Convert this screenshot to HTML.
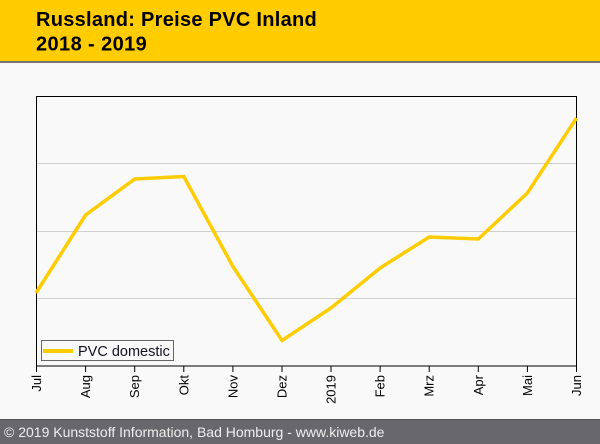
<!DOCTYPE html>
<html><head><meta charset="utf-8"><style>
html,body{margin:0;padding:0;}
body{width:600px;height:444px;overflow:hidden;background:#f9f9f9;font-family:"Liberation Sans",Arial,sans-serif;}
</style></head><body>
<svg width="600" height="444" viewBox="0 0 600 444" xmlns="http://www.w3.org/2000/svg" style="display:block">
<rect x="0" y="0" width="600" height="444" fill="#f9f9f9"/>
<rect x="0" y="0" width="600" height="61" fill="#ffcc00"/>
<rect x="0" y="61" width="600" height="2" fill="#777777"/>
<text x="36" y="26" font-family="Liberation Sans, Arial, sans-serif" font-weight="bold" font-size="20" letter-spacing="0.28" fill="#000">Russland: Preise PVC Inland</text>
<text x="36" y="50.5" font-family="Liberation Sans, Arial, sans-serif" font-weight="bold" font-size="20" letter-spacing="0.4" fill="#000">2018 - 2019</text>
<g stroke="#d0d0d0" stroke-width="1">
<line x1="37" y1="163.5" x2="576" y2="163.5"/>
<line x1="37" y1="231.5" x2="576" y2="231.5"/>
<line x1="37" y1="298.5" x2="576" y2="298.5"/>
</g>
<rect x="36.5" y="96.5" width="540" height="269.5" fill="none" stroke="#000" stroke-width="1"/>
<g stroke="#000" stroke-width="1">
<line x1="36.5" y1="366" x2="36.5" y2="372"/>
<line x1="85.6" y1="366" x2="85.6" y2="372"/>
<line x1="134.7" y1="366" x2="134.7" y2="372"/>
<line x1="183.8" y1="366" x2="183.8" y2="372"/>
<line x1="232.9" y1="366" x2="232.9" y2="372"/>
<line x1="282" y1="366" x2="282" y2="372"/>
<line x1="331" y1="366" x2="331" y2="372"/>
<line x1="380.1" y1="366" x2="380.1" y2="372"/>
<line x1="429.2" y1="366" x2="429.2" y2="372"/>
<line x1="478.3" y1="366" x2="478.3" y2="372"/>
<line x1="527.4" y1="366" x2="527.4" y2="372"/>
<line x1="576.5" y1="366" x2="576.5" y2="372"/>
</g>
<g font-family="Liberation Sans, Arial, sans-serif" font-size="13" fill="#000" text-anchor="end">
<text transform="translate(41,375) rotate(-90)">Jul</text>
<text transform="translate(90.1,375) rotate(-90)">Aug</text>
<text transform="translate(139.2,375) rotate(-90)">Sep</text>
<text transform="translate(188.3,375) rotate(-90)">Okt</text>
<text transform="translate(237.4,375) rotate(-90)">Nov</text>
<text transform="translate(286.5,375) rotate(-90)">Dez</text>
<text transform="translate(335.5,375) rotate(-90)">2019</text>
<text transform="translate(384.6,375) rotate(-90)">Feb</text>
<text transform="translate(433.7,375) rotate(-90)">Mrz</text>
<text transform="translate(482.8,375) rotate(-90)">Apr</text>
<text transform="translate(531.9,375) rotate(-90)">Mai</text>
<text transform="translate(581,375) rotate(-90)">Jun</text>
</g>
<polyline fill="none" stroke="#ffcc00" stroke-width="3.5" stroke-linejoin="miter" points="36,293 85.6,215 134.7,179 183.8,176.5 232.9,266.5 282,340.5 331,308 380.1,268 429.2,237 478.3,239 527.4,193 576.5,118"/>
<rect x="41.5" y="340.5" width="132" height="20" fill="#f9f9f9" stroke="#666" stroke-width="1"/>
<line x1="43" y1="351" x2="73" y2="351" stroke="#ffcc00" stroke-width="4"/>
<text x="78" y="356" font-family="Liberation Sans, Arial, sans-serif" font-size="14.5" fill="#111122">PVC domestic</text>
<rect x="0" y="419" width="600" height="25" fill="#68686c"/>
<rect x="0" y="419" width="600" height="1" fill="#555558"/>
<text x="4" y="437" font-family="Liberation Sans, Arial, sans-serif" font-size="14" fill="#eeeeee">© 2019 Kunststoff Information, Bad Homburg - www.kiweb.de</text>
</svg>
</body></html>
